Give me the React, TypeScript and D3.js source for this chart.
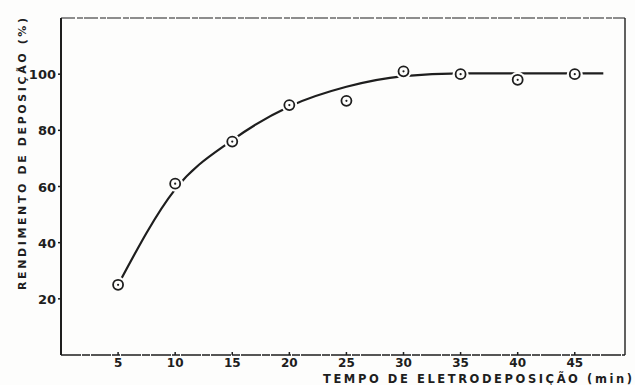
import React, { useEffect, useRef } from 'react';
import * as d3 from 'd3';

// measured points
const times = [5, 10, 15, 20, 25, 30, 35, 40, 45];
const yields = [25, 61, 76, 89, 90.5, 101, 100, 98, 100];

// hand drawn fitted curve
const curveTimes = [5, 10, 15, 20, 25, 30, 35, 40, 45, 47.5];
const curveYields = [25, 59, 76.5, 88.5, 95.5, 99.3, 100.3, 100.3, 100.3, 100.3];

const xTicks = [5, 10, 15, 20, 25, 30, 35, 40, 45];
const yTicks = [20, 40, 60, 80, 100];

const W = 635;
const H = 385;
const ink = '#1e1e1e';
const font = '"DejaVu Sans", sans-serif';

export default function App() {
  const svgRef = useRef<SVGSVGElement>(null);

  useEffect(() => {
    if (!svgRef.current) return;
    const svg = d3.select(svgRef.current);
    svg.selectAll('*').remove();

    const left = 61, right = 625, top = 18, bottom = 355;
    const x = d3.scaleLinear().domain([0, 49.4]).range([left, right]);
    const y = d3.scaleLinear().domain([0, 120]).range([bottom, top]);

    svg.append('rect').attr('width', W).attr('height', H).attr('fill', '#fdfdfc');

    const g = svg.append('g');

    // frame
    g.append('line').attr('x1', left).attr('x2', right).attr('y1', top).attr('y2', top)
      .attr('stroke', ink).attr('stroke-width', 1.2).attr('stroke-dasharray', '14 2 6 1');
    g.append('line').attr('x1', right).attr('x2', right).attr('y1', top).attr('y2', bottom)
      .attr('stroke', ink).attr('stroke-width', 1.4);
    g.append('line').attr('x1', left).attr('x2', left).attr('y1', top).attr('y2', bottom)
      .attr('stroke', ink).attr('stroke-width', 2);
    g.append('line').attr('x1', left).attr('x2', right).attr('y1', bottom).attr('y2', bottom)
      .attr('stroke', ink).attr('stroke-width', 1.6).attr('stroke-dasharray', '20 1 8 1');

    // y ticks
    yTicks.forEach(t => {
      g.append('line').attr('x1', left - 3).attr('x2', left).attr('y1', y(t)).attr('y2', y(t))
        .attr('stroke', ink).attr('stroke-width', 1.5);
      g.append('text').attr('x', left - 5).attr('y', y(t) + 5)
        .attr('text-anchor', 'end').attr('font-family', font).attr('font-size', 13)
        .attr('font-weight', 'bold').attr('fill', ink).text(t);
    });

    // x ticks
    xTicks.forEach(t => {
      g.append('line').attr('x1', x(t)).attr('x2', x(t)).attr('y1', bottom).attr('y2', bottom - 3)
        .attr('stroke', ink).attr('stroke-width', 1.5);
      g.append('text').attr('x', x(t)).attr('y', 367)
        .attr('text-anchor', 'middle').attr('font-family', font).attr('font-size', 12)
        .attr('font-weight', 'bold').attr('fill', ink).text(t);
    });

    // axis titles
    g.append('text').attr('x', 323).attr('y', 383)
      .attr('font-family', font).attr('font-size', 11.5).attr('font-weight', 'bold').attr('fill', ink)
      .attr('textLength', 309).attr('lengthAdjust', 'spacing')
      .text('TEMPO DE ELETRODEPOSIÇÃO (min)');
    g.append('text').attr('transform', 'translate(26,290) rotate(-90)')
      .attr('font-family', font).attr('font-size', 11).attr('font-weight', 'bold').attr('fill', ink)
      .attr('textLength', 272).attr('lengthAdjust', 'spacing')
      .text('RENDIMENTO DE DEPOSIÇÃO (%)');

    // fitted curve
    const line = d3.line<number>()
      .x(i => x(curveTimes[i]))
      .y(i => y(curveYields[i]))
      .curve(d3.curveMonotoneX);
    g.append('path').attr('d', line(d3.range(curveTimes.length)))
      .attr('fill', 'none').attr('stroke', ink).attr('stroke-width', 2.2);

    // markers with white gap
    times.forEach((t, i) => {
      const cx = x(t), cy = y(yields[i]);
      g.append('circle').attr('cx', cx).attr('cy', cy).attr('r', 8).attr('fill', '#fdfdfc');
      g.append('circle').attr('cx', cx).attr('cy', cy).attr('r', 5)
        .attr('fill', 'none').attr('stroke', ink).attr('stroke-width', 1.8);
      g.append('circle').attr('cx', cx).attr('cy', cy).attr('r', 1.1).attr('fill', ink);
    });
  }, []);

  return (
    <svg ref={svgRef} width={W} height={H}
      style={{ position: 'absolute', left: 0, top: 0, display: 'block' }} />
  );
}
